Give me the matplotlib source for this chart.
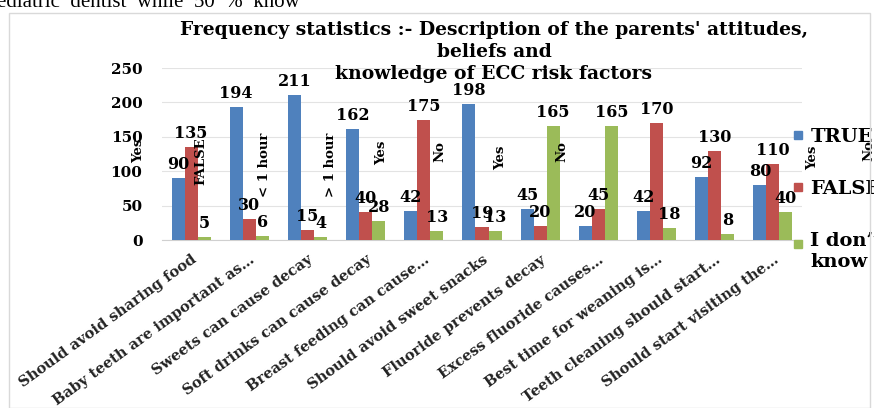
import matplotlib
matplotlib.use("Agg")
import matplotlib.pyplot as plt
import numpy as np
from matplotlib.patches import Rectangle
from matplotlib.lines import Line2D
from matplotlib.legend_handler import HandlerLine2D

plt.rcParams['font.family'] = ['DejaVu Serif']
plt.rcParams['font.weight'] = 'bold'

categories = ["Should avoid sharing food", "Baby teeth are important as\u2026",
              "Sweets can cause decay", "Soft drinks can cause decay",
              "Breast feeding can cause\u2026", "Should avoid sweet snacks",
              "Fluoride prevents decay", "Excess fluoride causes\u2026",
              "Best time for weaning is\u2026", "Teeth cleaning should start\u2026",
              "Should start visiting the\u2026"]
true_vals = [90, 194, 211, 162, 42, 198, 45, 20, 42, 92, 80]
false_vals = [135, 30, 15, 40, 175, 19, 20, 45, 170, 130, 110]
idk_vals = [5, 6, 4, 28, 13, 13, 165, 165, 18, 8, 40]
series_names = ["TRUE", "FALSE", "I don\u2019t\nknow"]
y_ticks = [0, 50, 100, 150, 200, 250]
title_lines = ["Frequency statistics :- Description of the parents' attitudes,",
               "beliefs and", "knowledge of ECC risk factors"]

# stray rotated answer texts from the source chart: (text, x in category units, y value)
stray_texts = [("Yes", -0.91, 130), ("FALSE", 0.17, 114), ("< 1 hour", 1.27, 110),
               ("> 1 hour", 2.39, 110), ("Yes", 3.27, 126), ("No", 4.28, 128),
               ("Yes", 5.32, 120), ("No", 6.38, 128), ("Yes", 10.69, 119),
               ("No", 11.65, 130)]

colors = ['#4F81BD', '#C0504D', '#9BBB59']

W, H = 874, 408
fig = plt.figure(figsize=(W / 100, H / 100), dpi=100)
fig.patch.set_facecolor('white')

# chart frame
fig.patches.append(Rectangle((9 / W, 0), (870 - 9) / W, 1 - 13 / H,
                             transform=fig.transFigure, fill=False,
                             edgecolor='#d9d9d9', lw=1.0))

# cropped document text at top
fig.text(-0.003, 1 - 7 / H, "ediatric  dentist  while  50  %  know",
         fontsize=15, fontweight='normal', va='baseline', ha='left',
         family=['Liberation Serif'])

ax = fig.add_axes([162 / W, 1 - 240 / H, (802 - 162) / W, (240 - 68) / H])
x = np.arange(len(categories))
bw = 0.224
for i, (vals, c) in enumerate(zip([true_vals, false_vals, idk_vals], colors)):
    bars = ax.bar(x + (i - 1) * bw, vals, width=bw, color=c, zorder=3)
    for b, v in zip(bars, vals):
        ax.annotate(str(v), (b.get_x() + b.get_width() / 2, v),
                    xytext=(0, 6.5), textcoords='offset points',
                    ha='center', va='baseline', fontsize=11.5, fontweight='bold',
                    zorder=4)

ax.set_xlim(-0.5, len(categories) - 0.5)
ax.set_ylim(0, 250)
ax.set_yticks(y_ticks)
ax.set_yticklabels([str(t) for t in y_ticks], fontsize=11, fontweight='bold')
ax.tick_params(axis='y', length=0, pad=14)
ax.set_xticks(x)
ax.set_xticklabels(categories, rotation=36, ha='right', rotation_mode='anchor',
                   fontsize=10.5, fontweight='bold', color='#222222')
ax.tick_params(axis='x', length=0, pad=9)
ax.yaxis.grid(True, color='#e3e3e3', lw=0.8, zorder=0)
for s in ['top', 'right', 'left']:
    ax.spines[s].set_visible(False)
ax.spines['bottom'].set_color('#d0d0d0')

for t, xv, yv in stray_texts:
    ax.text(xv, yv, t, rotation=90, ha='center', va='center', fontsize=9.5,
            fontweight='bold', clip_on=False, zorder=5)

# title (three centred lines)
for line, base in zip(title_lines, [35, 57, 79]):
    fig.text(494 / W, 1 - base / H, line, ha='center', va='baseline',
             fontsize=13.5, fontweight='bold', zorder=6)


class RaisedHandler(HandlerLine2D):
    def __init__(self, shift, **kw):
        super().__init__(**kw)
        self.shift = shift

    def create_artists(self, legend, orig_handle, xdescent, ydescent,
                       width, height, fontsize, trans):
        return super().create_artists(legend, orig_handle, xdescent,
                                      ydescent - self.shift, width, height,
                                      fontsize, trans)


handles = [Line2D([], [], marker='s', ls='none', color=c, markersize=6) for c in colors]
leg = ax.legend(handles, series_names, loc='upper left',
                bbox_to_anchor=(793 / W, 1 - 128 / H), bbox_transform=fig.transFigure,
                frameon=False, prop={'size': 14, 'weight': 'bold'},
                handlelength=0.5, handletextpad=0.4, labelspacing=1.75,
                borderaxespad=0, borderpad=0,
                handler_map={handles[2]: RaisedHandler(11)})

fig.savefig("out.png", dpi=100)
